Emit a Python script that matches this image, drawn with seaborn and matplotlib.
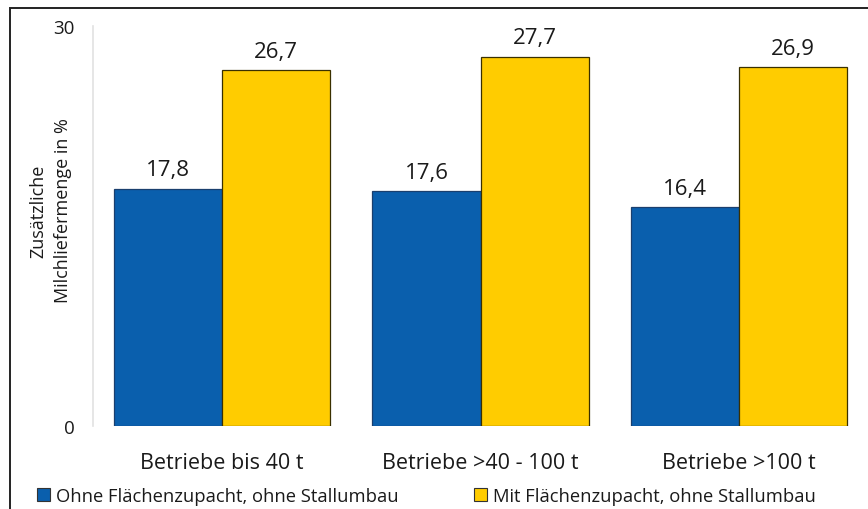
import matplotlib
matplotlib.use("Agg")
import matplotlib.pyplot as plt
import matplotlib.patches as mpatches
import seaborn as sns
import pandas as pd

categories = ["Betriebe bis 40 t", "Betriebe >40 - 100 t", "Betriebe >100 t"]
series_names = ["Ohne Flächenzupacht, ohne Stallumbau", "Mit Flächenzupacht, ohne Stallumbau"]
ohne_values = [17.8, 17.6, 16.4]
mit_values = [26.7, 27.7, 26.9]
y_ticks = [0, 30]
y_label = "Zusätzliche\nMilchliefermenge in %"

colors = ["#0a5fad", "#ffcc00"]

df = pd.DataFrame({
    "Kategorie": categories * 2,
    "Wert": ohne_values + mit_values,
    "Serie": [series_names[0]] * 3 + [series_names[1]] * 3,
})

sns.set_theme(style="white")
plt.rcParams["font.family"] = ["Open Sans", "DejaVu Sans"]

fig = plt.figure(figsize=(8.68, 5.10), dpi=100)
ax = fig.add_axes([93 / 868, 83 / 510, 1 - 93 / 868, 400 / 510])

sns.barplot(data=df, x="Kategorie", y="Wert", hue="Serie", palette=colors,
            width=0.837, gap=0, dodge=True, ax=ax, legend=False,
            linewidth=0, saturation=1)

# thin outline on the bars
for cont, ec in zip(ax.containers, ["#1a3f6e", "#3a3000"]):
    for p in cont.patches:
        p.set_edgecolor(ec)
        p.set_linewidth(0.9)

for cont, vals in zip(ax.containers, [ohne_values, mit_values]):
    ax.bar_label(cont, labels=[f"{v:.1f}".replace(".", ",") for v in vals],
                 padding=6, fontsize=16, color="#1a1a1a")

ax.set_xlim(-0.5, 2.5)
ax.set_ylim(0, 30)
ax.set_yticks(y_ticks)
ax.set_yticklabels([str(t) for t in y_ticks], fontsize=13.5, color="#1a1a1a")
ax.tick_params(axis="y", length=4, color="#dddddd", pad=9)
ax.tick_params(axis="x", length=0, pad=19, labelsize=15.5, labelcolor="#1a1a1a")
ax.set_xlabel("")
ax.set_ylabel(y_label, fontsize=13, color="#1a1a1a", linespacing=1.45, va="center")
ax.yaxis.set_label_coords(-42 / 775, (427 - 211) / 400)

for side in ["top", "right", "bottom"]:
    ax.spines[side].set_visible(False)
ax.spines["left"].set_color("#e2e2e2")
ax.spines["left"].set_linewidth(1.2)

handles = [mpatches.Patch(facecolor=c, edgecolor="#333333", linewidth=0.8) for c in colors]
fig.legend(handles, series_names, loc="center left", bbox_to_anchor=(30 / 868, 1 - 497 / 510),
           ncol=2, frameon=False, fontsize=13.2, handlelength=0.7, handleheight=0.7,
           handletextpad=0.3, columnspacing=4.15, borderaxespad=0, labelcolor="#1a1a1a")

# outer frame line along the top and left edge
frame = mpatches.Rectangle((10 / 868, -0.05), 1.2, 1 - 9 / 510 + 0.05, transform=fig.transFigure,
                           fill=False, edgecolor="#222222", linewidth=1.4, clip_on=False)
fig.patches.append(frame)

fig.savefig("out.png", dpi=100, facecolor="white")
